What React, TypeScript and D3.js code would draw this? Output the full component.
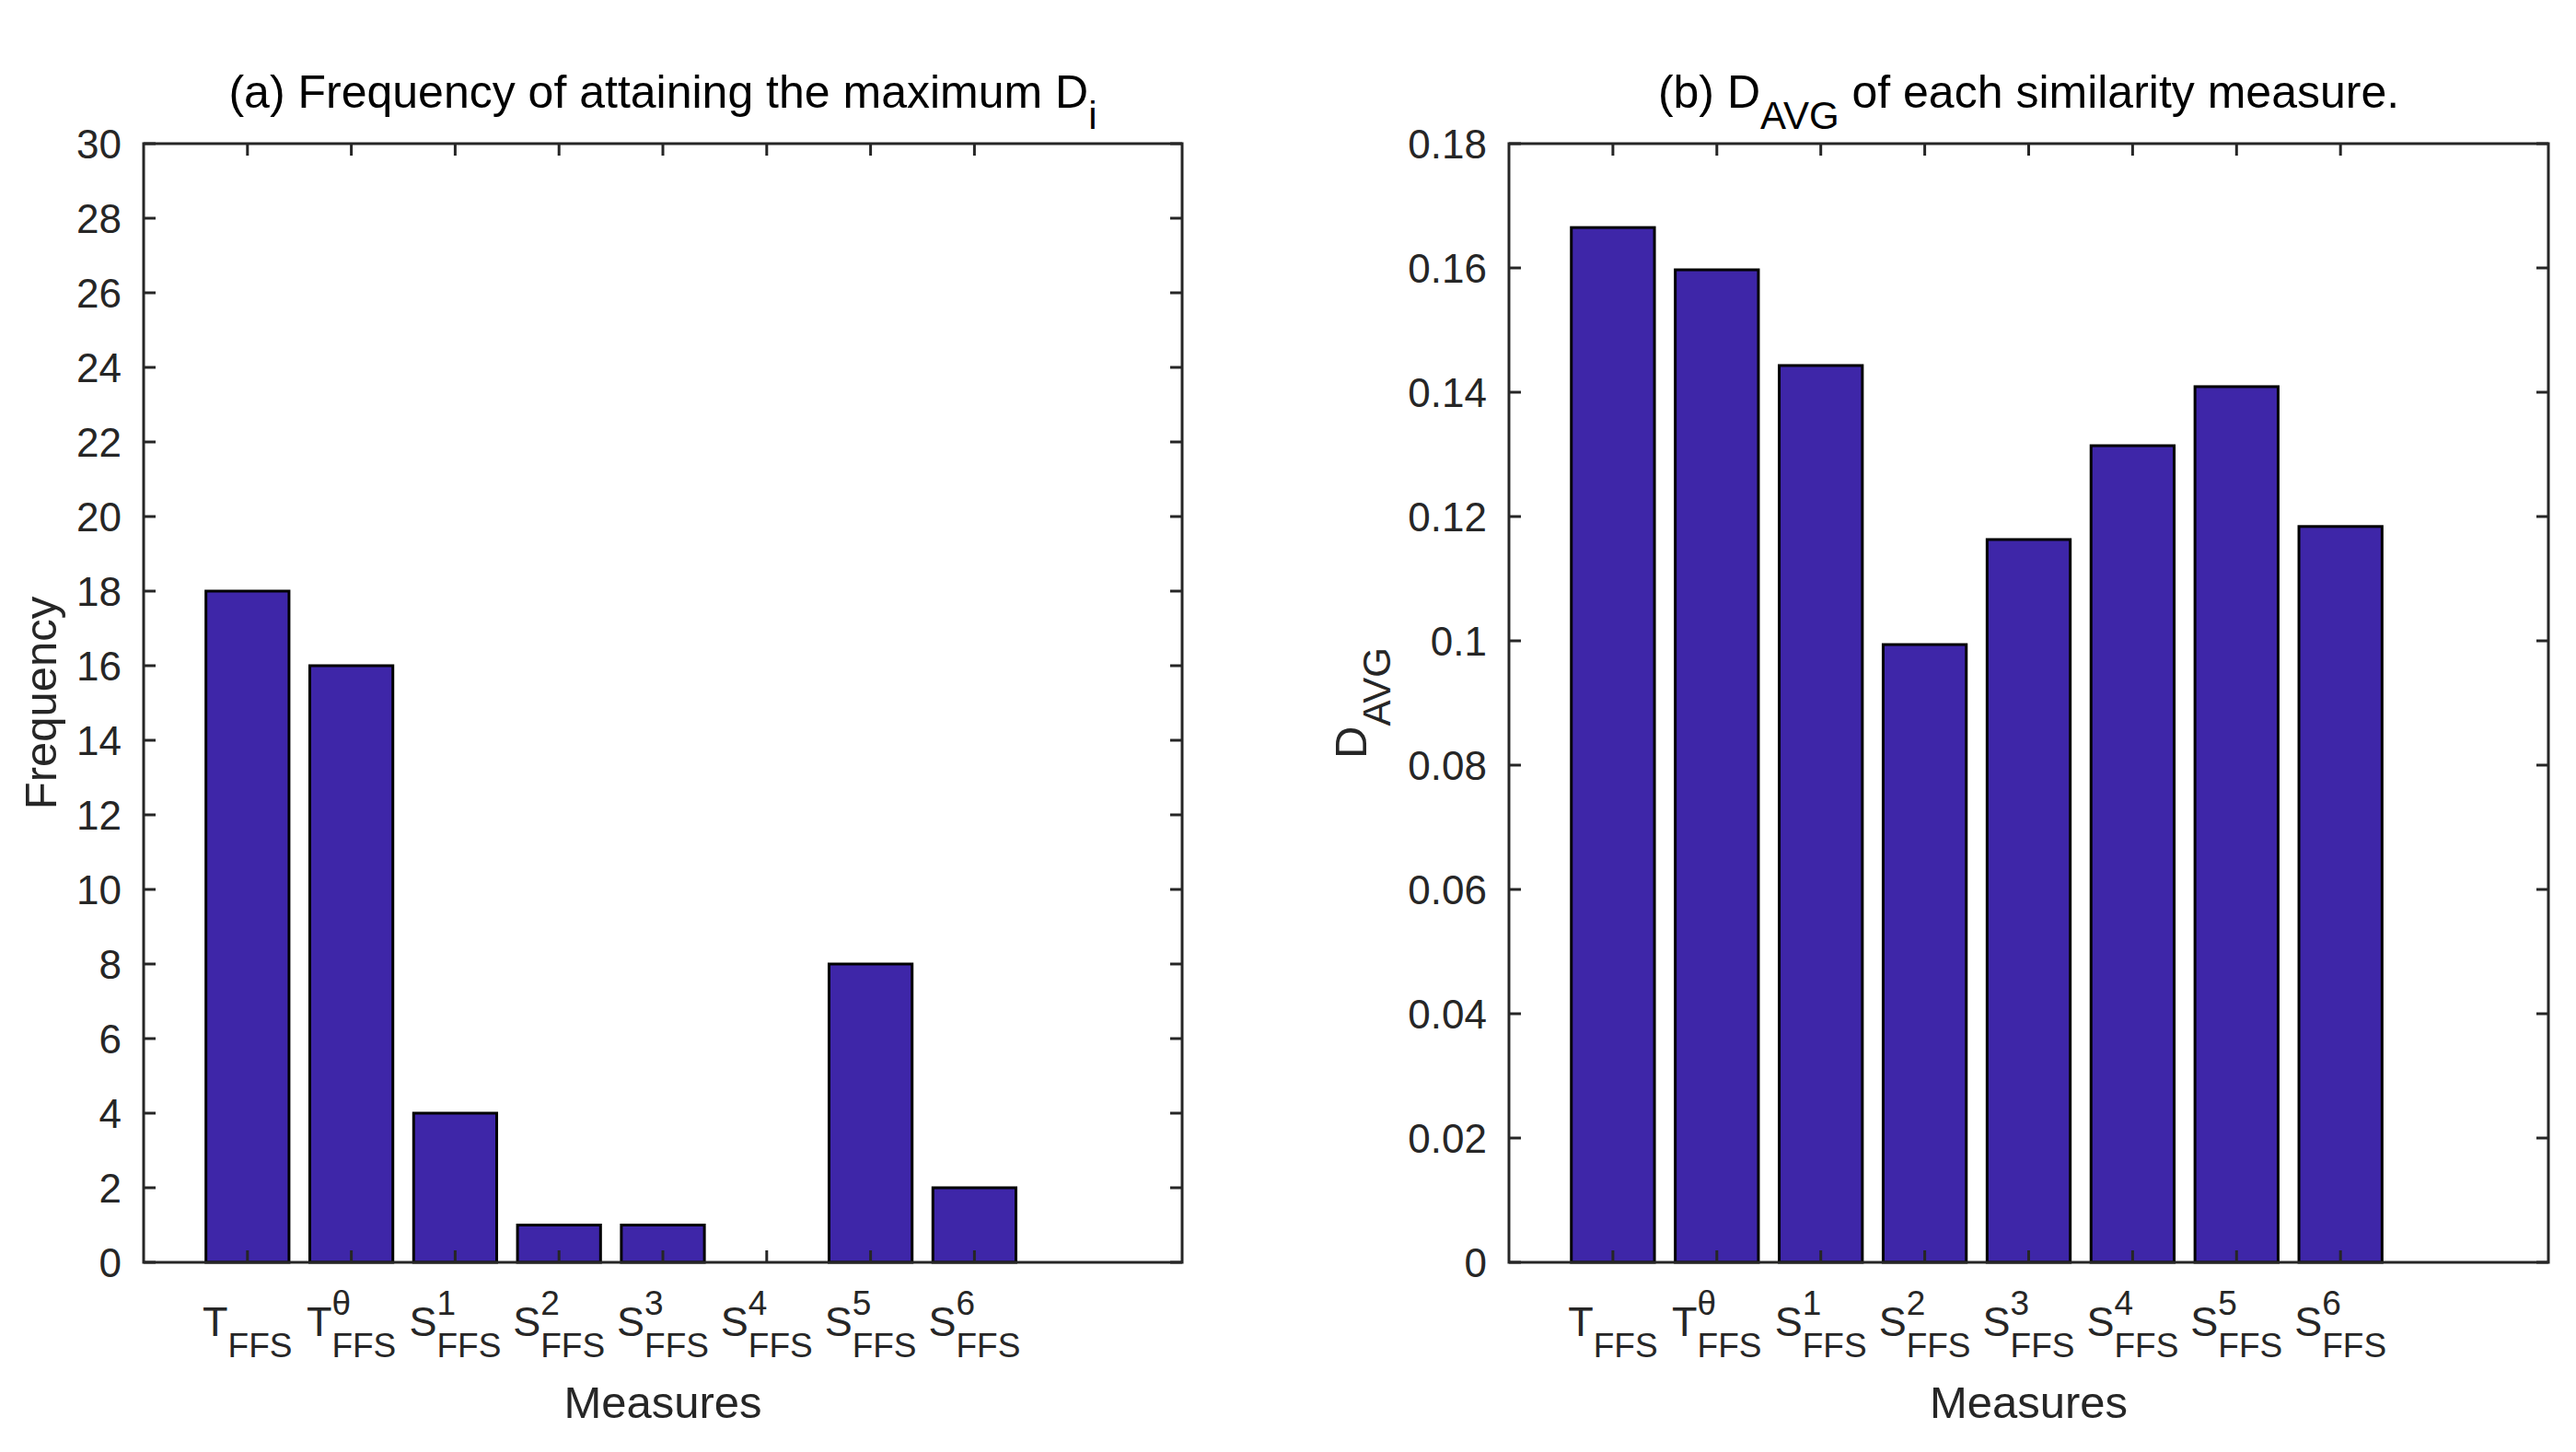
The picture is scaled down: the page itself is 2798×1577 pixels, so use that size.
import React, { useEffect, useRef } from 'react';
import * as d3 from 'd3';

// categories: main letter, superscript, subscript
const measureMain = ['T', 'T', 'S', 'S', 'S', 'S', 'S', 'S'];
const measureSup = ['', 'θ', '1', '2', '3', '4', '5', '6'];
const measureSub = 'FFS';

const frequencyValues = [18, 16, 4, 1, 1, 0, 8, 2];
const davgValues = [0.1665, 0.1597, 0.1443, 0.0994, 0.1163, 0.1314, 0.1409, 0.1184];

const frequencyTicks = [0, 2, 4, 6, 8, 10, 12, 14, 16, 18, 20, 22, 24, 26, 28, 30];
const davgTicks = [0, 0.02, 0.04, 0.06, 0.08, 0.1, 0.12, 0.14, 0.16, 0.18];

const WIDTH = 2798;
const HEIGHT = 1577;
const FONT = '"Liberation Sans", Arial, Helvetica, sans-serif';
const AXIS_COLOR = '#262626';
const BAR_COLOR = '#3e26a8';

type Part = { text: string; sub?: boolean };

interface PanelOpts {
  left: number;
  right: number;
  top: number;
  bottom: number;
  values: number[];
  yMax: number;
  ticks: number[];
  title: Part[];
  ylabel: Part[];
  ylabelX: number;
}

function drawPanel(svg: d3.Selection<SVGSVGElement, unknown, null, undefined>, o: PanelOpts) {
  const x = d3.scaleLinear().domain([0, 10]).range([o.left, o.right]);
  const y = d3.scaleLinear().domain([0, o.yMax]).range([o.bottom, o.top]);
  const g = svg.append('g');

  // bars
  g.selectAll('rect.bar')
    .data(o.values.map((v, i) => ({ v, i })).filter(d => d.v > 0))
    .enter()
    .append('rect')
    .attr('class', 'bar')
    .attr('x', d => x(d.i + 1 - 0.4))
    .attr('width', d => x(d.i + 1 + 0.4) - x(d.i + 1 - 0.4))
    .attr('y', d => y(d.v))
    .attr('height', d => y(0) - y(d.v))
    .attr('fill', BAR_COLOR)
    .attr('stroke', '#000')
    .attr('stroke-width', 3);

  // box
  g.append('rect')
    .attr('x', o.left)
    .attr('y', o.top)
    .attr('width', o.right - o.left)
    .attr('height', o.bottom - o.top)
    .attr('fill', 'none')
    .attr('stroke', AXIS_COLOR)
    .attr('stroke-width', 3);

  const tickLen = 13;

  // y ticks (both sides, inward)
  o.ticks.forEach(t => {
    const ty = y(t);
    g.append('line').attr('x1', o.left).attr('x2', o.left + tickLen).attr('y1', ty).attr('y2', ty)
      .attr('stroke', AXIS_COLOR).attr('stroke-width', 3);
    g.append('line').attr('x1', o.right).attr('x2', o.right - tickLen).attr('y1', ty).attr('y2', ty)
      .attr('stroke', AXIS_COLOR).attr('stroke-width', 3);
    g.append('text')
      .attr('x', o.left - 24)
      .attr('y', ty + 16)
      .attr('text-anchor', 'end')
      .attr('font-size', 44)
      .attr('fill', AXIS_COLOR)
      .text(String(+t.toFixed(2)));
  });

  // x ticks (top and bottom, inward) + labels
  measureMain.forEach((m, i) => {
    const tx = x(i + 1);
    g.append('line').attr('x1', tx).attr('x2', tx).attr('y1', o.bottom).attr('y2', o.bottom - tickLen)
      .attr('stroke', AXIS_COLOR).attr('stroke-width', 3);
    g.append('line').attr('x1', tx).attr('x2', tx).attr('y1', o.top).attr('y2', o.top + tickLen)
      .attr('stroke', AXIS_COLOR).attr('stroke-width', 3);

    const lg = g.append('g');
    const main = lg.append('text').attr('x', 0).attr('y', 80).attr('font-size', 45)
      .attr('fill', AXIS_COLOR).text(m);
    const w1 = (main.node() as SVGTextElement).getComputedTextLength();
    let ws = 0;
    if (measureSup[i]) {
      const sup = lg.append('text').attr('x', w1).attr('y', 57).attr('font-size', 37)
        .attr('fill', AXIS_COLOR).text(measureSup[i]);
      ws = (sup.node() as SVGTextElement).getComputedTextLength();
    }
    const sub = lg.append('text').attr('x', w1).attr('y', 103).attr('font-size', 37)
      .attr('fill', AXIS_COLOR).text(measureSub);
    const wb = (sub.node() as SVGTextElement).getComputedTextLength();
    const total = w1 + Math.max(ws, wb);
    lg.attr('transform', `translate(${tx - total / 2},${o.bottom})`);
  });

  const cx = (o.left + o.right) / 2;
  const cy = (o.top + o.bottom) / 2;

  // x label
  g.append('text')
    .attr('x', cx)
    .attr('y', 1540)
    .attr('text-anchor', 'middle')
    .attr('font-size', 49)
    .attr('fill', AXIS_COLOR)
    .text('Measures');

  // title
  const title = g.append('text')
    .attr('x', cx)
    .attr('y', 117)
    .attr('text-anchor', 'middle')
    .attr('font-size', 50)
    .attr('fill', '#000');
  addParts(title, o.title, 23, 42);

  // y label
  const yl = g.append('text')
    .attr('transform', `translate(${o.ylabelX},${cy}) rotate(-90)`)
    .attr('text-anchor', 'middle')
    .attr('font-size', 49)
    .attr('fill', AXIS_COLOR);
  addParts(yl, o.ylabel, 26, 42);
}

function addParts(
  t: d3.Selection<SVGTextElement, unknown, null, undefined>,
  parts: Part[],
  shift: number,
  subSize: number
) {
  let down = false;
  parts.forEach(p => {
    const ts = t.append('tspan').text(p.text);
    if (p.sub && !down) {
      ts.attr('dy', shift).attr('font-size', subSize);
      down = true;
    } else if (!p.sub && down) {
      ts.attr('dy', -shift);
      down = false;
    }
  });
}

const App: React.FC = () => {
  const svgRef = useRef<SVGSVGElement>(null);

  useEffect(() => {
    if (!svgRef.current) return;
    d3.select(svgRef.current).selectAll('*').remove();
    const svg = d3.select(svgRef.current);

    svg.append('rect').attr('width', WIDTH).attr('height', HEIGHT).attr('fill', '#fff');

    drawPanel(svg, {
      left: 156,
      right: 1284,
      top: 156,
      bottom: 1371,
      values: frequencyValues,
      yMax: 30,
      ticks: frequencyTicks,
      title: [{ text: '(a) Frequency of attaining the maximum D' }, { text: 'i', sub: true }],
      ylabel: [{ text: 'Frequency' }],
      ylabelX: 61,
    });

    drawPanel(svg, {
      left: 1639,
      right: 2768,
      top: 156,
      bottom: 1371,
      values: davgValues,
      yMax: 0.18,
      ticks: davgTicks,
      title: [{ text: '(b) D' }, { text: 'AVG', sub: true }, { text: ' of each similarity measure.' }],
      ylabel: [{ text: 'D' }, { text: 'AVG', sub: true }],
      ylabelX: 1484,
    });
  }, []);

  return (
    <svg
      ref={svgRef}
      width={WIDTH}
      height={HEIGHT}
      style={{ position: 'absolute', left: 0, top: 0, fontFamily: FONT }}
    />
  );
};

export default App;
